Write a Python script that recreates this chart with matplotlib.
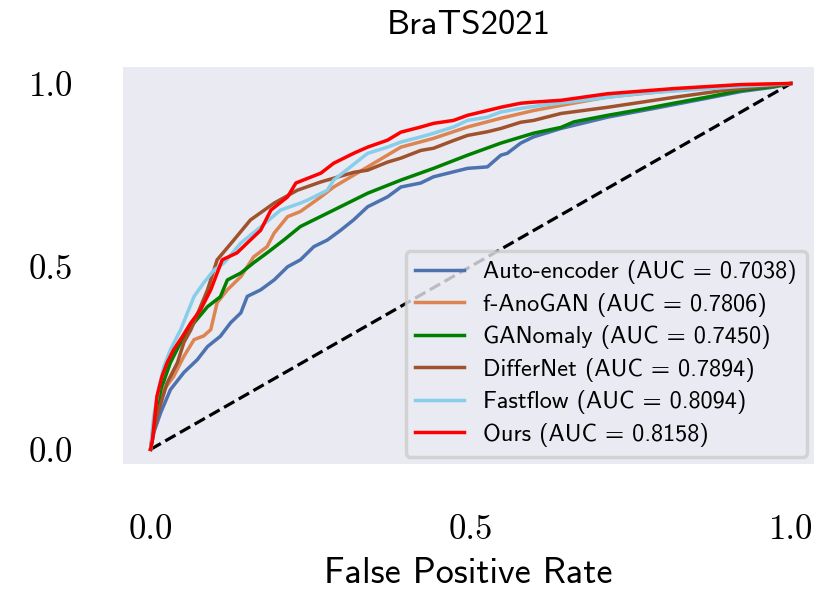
import matplotlib
matplotlib.use("Agg")
import matplotlib.pyplot as plt

# ROC points (fpr, tpr)
ae_fpr = [0, 0.005, 0.016, 0.031, 0.052, 0.073, 0.089, 0.109, 0.125, 0.141, 0.151, 0.172, 0.193, 0.214,
          0.234, 0.255, 0.276, 0.297, 0.317, 0.339, 0.370, 0.391, 0.422, 0.442, 0.495, 0.526, 0.547, 0.557,
          0.578, 0.598, 0.641, 0.714, 0.790, 0.870, 0.922, 0.973, 1.0]
ae_tpr = [0, 0.046, 0.101, 0.163, 0.210, 0.245, 0.281, 0.309, 0.346, 0.373, 0.418, 0.436, 0.463, 0.499,
          0.518, 0.554, 0.572, 0.599, 0.627, 0.663, 0.690, 0.717, 0.728, 0.745, 0.768, 0.772, 0.804, 0.809,
          0.837, 0.854, 0.877, 0.908, 0.933, 0.960, 0.978, 0.990, 1.0]

fano_fpr = [0, 0.005, 0.021, 0.036, 0.052, 0.068, 0.083, 0.094, 0.104, 0.120, 0.141, 0.161, 0.182, 0.193,
            0.214, 0.234, 0.266, 0.286, 0.339, 0.391, 0.442, 0.495, 0.547, 0.598, 0.641, 0.714, 0.817,
            0.922, 1.0]
fano_tpr = [0, 0.074, 0.163, 0.199, 0.254, 0.300, 0.310, 0.327, 0.401, 0.436, 0.472, 0.526, 0.554, 0.591,
            0.636, 0.650, 0.690, 0.717, 0.772, 0.826, 0.850, 0.881, 0.905, 0.926, 0.940, 0.963, 0.981,
            0.995, 1.0]

gano_fpr = [0, 0.003, 0.016, 0.031, 0.047, 0.068, 0.089, 0.109, 0.120, 0.141, 0.161, 0.182, 0.208, 0.234,
            0.286, 0.339, 0.391, 0.442, 0.495, 0.547, 0.598, 0.641, 0.661, 0.714, 0.766, 0.817, 0.870,
            0.922, 0.973, 1.0]
gano_tpr = [0, 0.036, 0.163, 0.237, 0.292, 0.346, 0.390, 0.417, 0.463, 0.482, 0.510, 0.537, 0.572, 0.609,
            0.654, 0.700, 0.736, 0.768, 0.804, 0.837, 0.864, 0.880, 0.895, 0.913, 0.929, 0.946, 0.963,
            0.981, 0.992, 1.0]

diff_fpr = [0, 0.010, 0.026, 0.042, 0.052, 0.063, 0.089, 0.104, 0.130, 0.156, 0.193, 0.229, 0.266, 0.286,
            0.317, 0.339, 0.370, 0.391, 0.422, 0.442, 0.473, 0.495, 0.526, 0.547, 0.578, 0.598, 0.641,
            0.714, 0.817, 0.895, 0.973, 1.0]
diff_tpr = [0, 0.091, 0.182, 0.237, 0.292, 0.327, 0.436, 0.518, 0.572, 0.627, 0.673, 0.708, 0.731, 0.741,
            0.757, 0.763, 0.785, 0.796, 0.817, 0.823, 0.844, 0.858, 0.868, 0.877, 0.894, 0.899, 0.918,
            0.935, 0.962, 0.981, 0.995, 1.0]

ff_fpr = [0, 0.005, 0.013, 0.021, 0.031, 0.047, 0.068, 0.083, 0.099, 0.115, 0.141, 0.172, 0.203, 0.234,
          0.245, 0.276, 0.286, 0.339, 0.370, 0.391, 0.422, 0.442, 0.473, 0.495, 0.526, 0.547, 0.578, 0.609,
          0.766, 0.922, 1.0]
ff_tpr = [0, 0.091, 0.170, 0.227, 0.272, 0.327, 0.418, 0.455, 0.490, 0.510, 0.564, 0.608, 0.654, 0.673,
          0.681, 0.708, 0.736, 0.809, 0.826, 0.840, 0.854, 0.864, 0.881, 0.899, 0.908, 0.922, 0.932, 0.940,
          0.973, 0.992, 1.0]

ours_fpr = [0, 0.003, 0.010, 0.018, 0.026, 0.036, 0.050, 0.063, 0.078, 0.094, 0.104, 0.112, 0.135, 0.151,
            0.172, 0.188, 0.214, 0.227, 0.266, 0.286, 0.317, 0.339, 0.370, 0.391, 0.422, 0.442, 0.473,
            0.495, 0.526, 0.547, 0.578, 0.598, 0.641, 0.714, 0.817, 0.922, 1.0]
ours_tpr = [0, 0.027, 0.145, 0.200, 0.237, 0.272, 0.309, 0.346, 0.381, 0.436, 0.482, 0.518, 0.537, 0.564,
            0.599, 0.654, 0.690, 0.728, 0.755, 0.782, 0.809, 0.826, 0.845, 0.867, 0.881, 0.891, 0.899,
            0.913, 0.926, 0.935, 0.946, 0.949, 0.954, 0.972, 0.986, 0.997, 1.0]

names = ["Auto-encoder", "f-AnoGAN", "GANomaly", "DifferNet", "Fastflow", "Ours"]
aucs = [0.7038, 0.7806, 0.7450, 0.7894, 0.8094, 0.8158]
colors = ["#4C72B0", "#DD8452", "#008000", "#A0522D", "#87CEEB", "#FF0000"]
curves = [(ae_fpr, ae_tpr), (fano_fpr, fano_tpr), (gano_fpr, gano_tpr),
          (diff_fpr, diff_tpr), (ff_fpr, ff_tpr), (ours_fpr, ours_tpr)]

SANS = ["cmss10", "DejaVu Sans"]
SERIF = ["cmr10", "DejaVu Serif"]

fig = plt.figure(figsize=(8.16, 5.90), dpi=100)
ax = fig.add_axes([123 / 816, 1 - 464 / 590, (814 - 123) / 816, (464 - 67) / 590])
ax.set_facecolor("#EAEAF2")
for s in ax.spines.values():
    s.set_visible(False)

ax.plot([0, 1], [0, 1], color="black", ls="--", lw=2.3, zorder=2)
for (fx, ty), name, auc, col in zip(curves, names, aucs, colors):
    ax.plot(fx, ty, color=col, lw=2.5, label=f"{name} (AUC = {auc:.4f})", zorder=3)

ax.set_xlim(-0.043, 1.036)
ax.set_ylim(-0.040, 1.045)
ax.set_xticks([0.0, 0.5, 1.0])
ax.set_yticks([0.0, 0.5, 1.0])
ax.set_xticklabels(["0.0", "0.5", "1.0"])
ax.set_yticklabels(["0.0", "0.5", "1.0"])
ax.tick_params(length=0, labelsize=25, pad=36)
for lab in ax.get_xticklabels() + ax.get_yticklabels():
    lab.set_family(SERIF)

ax.set_title("BraTS2021", fontsize=25, family=SANS, pad=24)
ax.set_xlabel("False Positive Rate", fontsize=26, family=SANS, labelpad=8)

leg = ax.legend(loc="lower right", prop={"family": SANS, "size": 17.5},
                facecolor="#EAEAF2", edgecolor="#CCCCCC", framealpha=0.8,
                borderaxespad=0.3, handlelength=2.0, labelspacing=0.35)
leg.get_frame().set_linewidth(2.5)

fig.savefig("out.png", dpi=100)
